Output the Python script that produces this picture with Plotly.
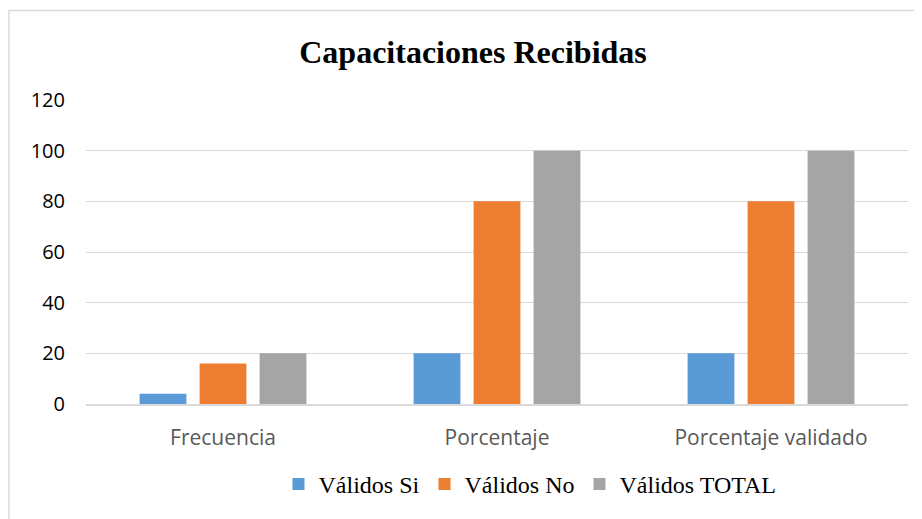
import plotly.graph_objects as go

# --- Datos ---
categorias = ["Frecuencia", "Porcentaje", "Porcentaje validado"]
validos_si = [4, 20, 20]
validos_no = [16, 80, 80]
validos_total = [20, 100, 100]

series = [
    ("Válidos Si", validos_si, "#5B9BD5"),
    ("Válidos No", validos_no, "#ED7D31"),
    ("Válidos TOTAL", validos_total, "#A5A5A5"),
]

fig = go.Figure()
for nombre, valores, color in series:
    fig.add_trace(go.Bar(x=categorias, y=valores, name=nombre, marker_color=color,
                         marker_line_width=0))

# the page body has an 8px margin, so the figure sits at (8, 8)
OFF = 8
W, H = 922 - OFF, 519 - OFF
L, R, T, B = 86 - OFF, 14, 100 - OFF, 113
pw, ph = W - L - R, H - T - B

# marco del gráfico (estilo Excel)
fig.add_shape(type="rect", xref="paper", yref="paper",
              x0=(1 - L) / pw, x1=(W + 5 - L) / pw,
              y0=-(B + 10) / ph, y1=(H - B - (10 - OFF)) / ph,
              line=dict(color="#D9D9D9", width=1.5), fillcolor="rgba(0,0,0,0)", layer="below")

fig.update_layout(
    width=W, height=H,
    margin=dict(l=L, r=R, t=T, b=B),
    paper_bgcolor="white", plot_bgcolor="white",
    barmode="group", bargap=0.343, bargroupgap=0.22,
    title=dict(text="<b>Capacitaciones Recibidas</b>", x=(473 - OFF) / W, xanchor="center",
               y=1 - (52 - OFF) / H, yanchor="middle",
               font=dict(family="Liberation Serif", size=32, color="black")),
    legend=dict(orientation="h", x=(530 - 86) / pw, xanchor="center",
                y=(406 - 487) / ph, yanchor="middle",
                font=dict(family="Liberation Serif", size=24, color="black"),
                itemwidth=30, tracegroupgap=0),
    showlegend=True,
)
fig.update_yaxes(range=[0, 120], dtick=20, showgrid=True, gridcolor="#D9D9D9", gridwidth=1,
                 zeroline=False, showline=False, ticks="",
                 tickfont=dict(family="Open Sans", size=20, color="black"), ticklabelstandoff=20)
fig.update_xaxes(showline=True, linecolor="#D9D9D9", linewidth=1.5, ticks="",
                 tickfont=dict(family="Open Sans", size=21, color="#595959"), ticklabelstandoff=14)

fig.write_html("out.html")
